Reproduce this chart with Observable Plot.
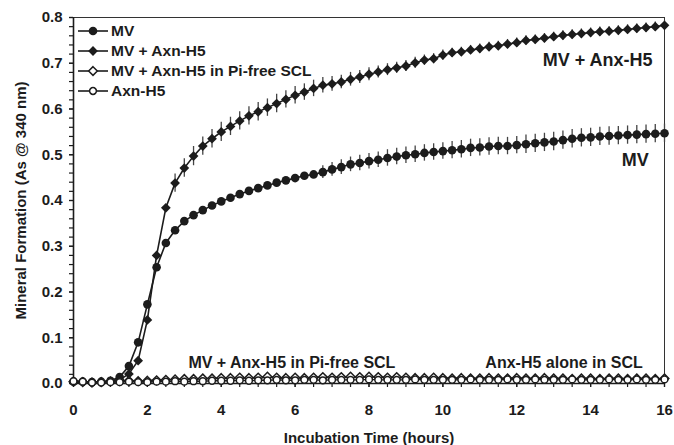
<!DOCTYPE html>
<html>
<head>
<meta charset="utf-8">
<script src="https://cdn.jsdelivr.net/npm/d3@7"></script>
<script src="https://cdn.jsdelivr.net/npm/@observablehq/plot@0.6"></script>
<style>
  html, body { margin: 0; padding: 0; background: #fff; }
  #chart { width: 674px; height: 445px; }
</style>
</head>
<body>
<div id="chart"></div>
<script>
// ---------- data ----------
const hours = [0,0.25,0.5,0.75,1,1.25,1.5,1.75,2,2.25,2.5,2.75,3,3.25,3.5,3.75,4,4.25,4.5,4.75,5,5.25,5.5,5.75,6,6.25,6.5,6.75,7,7.25,7.5,7.75,8,8.25,8.5,8.75,9,9.25,9.5,9.75,10,10.25,10.5,10.75,11,11.25,11.5,11.75,12,12.25,12.5,12.75,13,13.25,13.5,13.75,14,14.25,14.5,14.75,15,15.25,15.5,15.75,16];

const mv = [0.004,0.004,0.003,0.004,0.006,0.014,0.038,0.090,0.173,0.254,
            0.307,0.335,0.355,0.368,0.379,0.389,0.398,0.406,0.414,0.421,
            0.427,0.433,0.439,0.444,0.449,0.454,0.457,0.462,0.468,0.473,
            0.479,0.482,0.486,0.489,0.493,0.496,0.499,0.501,0.504,0.506,
            0.508,0.510,0.512,0.515,0.516,0.518,0.519,0.519,0.521,0.523,
            0.525,0.527,0.529,0.532,0.535,0.537,0.538,0.540,0.541,0.542,
            0.543,0.544,0.545,0.546,0.547];

const mvAnx = [0.004,0.004,0.003,0.004,0.005,0.008,0.021,0.050,0.139,0.280,
               0.384,0.438,0.471,0.497,0.519,0.535,0.550,0.562,0.574,0.585,
               0.594,0.603,0.612,0.621,0.630,0.637,0.645,0.652,0.655,0.659,
               0.665,0.670,0.676,0.681,0.686,0.690,0.694,0.701,0.707,0.710,
               0.718,0.723,0.725,0.729,0.732,0.736,0.738,0.742,0.745,0.750,
               0.752,0.755,0.758,0.761,0.763,0.765,0.767,0.769,0.770,0.772,
               0.774,0.776,0.778,0.780,0.783];

const mvAnxPiFree = [0.004,0.003,0.002,0.003,0.004,0.005,0.006,0.005,0.006,0.007,
                     0.008,0.009,0.010,0.010,0.011,0.011,0.012,0.012,0.013,0.012,
                     0.013,0.015,0.013,0.012,0.013,0.012,0.013,0.014,0.013,0.014,
                     0.015,0.014,0.015,0.014,0.013,0.014,0.013,0.012,0.012,0.013,
                     0.012,0.011,0.012,0.011,0.011,0.012,0.011,0.011,0.012,0.011,
                     0.011,0.012,0.011,0.011,0.010,0.011,0.011,0.010,0.011,0.011,
                     0.010,0.011,0.011,0.010,0.011];

const anxOnly = [0.005,0.004,0.002,0.002,0.003,0.003,0.004,0.003,0.003,0.004,
                 0.004,0.005,0.004,0.005,0.005,0.006,0.006,0.006,0.007,0.006,
                 0.007,0.007,0.008,0.007,0.007,0.008,0.008,0.007,0.008,0.008,
                 0.008,0.008,0.009,0.008,0.008,0.008,0.008,0.009,0.008,0.008,
                 0.008,0.008,0.008,0.009,0.008,0.008,0.008,0.009,0.008,0.008,
                 0.009,0.008,0.008,0.008,0.009,0.008,0.008,0.008,0.009,0.008,
                 0.008,0.009,0.008,0.008,0.009];

const mvErr = [0,0,0,0,0,0,0,0,0,0,
               0,0,0,0,0,0,0,0,0,0,
               0,0,0,0,0,0,0,0.014,0.015,0.016,
               0.016,0.017,0.017,0.017,0.018,0.018,0.018,0.018,0.018,0.018,
               0.018,0.019,0.019,0.019,0.019,0.019,0.019,0.019,0.019,0.020,
               0.020,0.020,0.020,0.020,0.020,0.020,0.020,0.020,0.020,0.020,
               0.020,0.020,0.020,0.020,0.020];

const mvAnxErr = [0,0,0,0,0,0,0,0,0,0,
                  0,0.020,0.020,0.021,0.020,0.020,0.021,0.020,0.020,0.020,
                  0.020,0.019,0.020,0.019,0.019,0.018,0.018,0.017,0.016,0.015,
                  0.015,0.014,0.014,0.013,0.013,0.012,0.012,0.012,0.011,0.011,
                  0.011,0.010,0.010,0.010,0.010,0.010,0.010,0.010,0.010,0.010,
                  0.010,0.010,0.010,0.010,0.010,0.010,0.010,0.010,0.010,0.010,
                  0.010,0.010,0.010,0.010,0.010];

const seriesNames = ["MV", "MV + Axn-H5", "MV + Axn-H5 in Pi-free SCL", "Axn-H5"];
const xTicks = [0, 2, 4, 6, 8, 10, 12, 14, 16];
const yTicks = [0, 0.1, 0.2, 0.3, 0.4, 0.5, 0.6, 0.7, 0.8];
const xLabel = "Incubation Time (hours)";
const yLabel = "Mineral Formation (As @ 340 nm)";
const annotations = ["MV + Anx-H5", "MV", "MV + Anx-H5 in Pi-free SCL", "Anx-H5 alone in SCL"];

// ---------- build table ----------
const toRows = (vals, errs) => hours.map((h, i) => ({h, v: vals[i], e: errs ? errs[i] : 0}));
const dMV = toRows(mv, mvErr);
const dMVAnx = toRows(mvAnx, mvAnxErr);
const dPi = toRows(mvAnxPiFree);
const dAnx = toRows(anxOnly);

const ink = "#1c1c1c";
const xMinor = d3.range(0, 16.001, 0.5);
const yMinor = d3.range(0, 0.8001, 0.02);

const chart = Plot.plot({
  width: 674,
  height: 445,
  marginTop: 17,
  marginRight: 10,
  marginBottom: 62,
  marginLeft: 73,
  style: {
    fontFamily: "'Liberation Sans', Arial, Helvetica, sans-serif",
    fontSize: "15px",
    fontWeight: "bold",
    color: ink,
    background: "#fff"
  },
  x: {domain: [0, 16]},
  y: {domain: [0, 0.8]},
  marks: [
    Plot.frame({stroke: "#333", strokeWidth: 1}),
    Plot.axisX(xMinor, {tickSize: 4, text: null, label: null, strokeWidth: 1.2}),
    Plot.axisX(xTicks, {tickSize: 4, tickPadding: 17, strokeWidth: 1.2,
      label: xLabel, labelAnchor: "center", labelArrow: "none", fontSize: 15}),
    Plot.axisY(yMinor, {tickSize: 4, text: null, label: null, strokeWidth: 1.2}),
    Plot.axisY(yTicks, {tickSize: 4, tickPadding: 7, strokeWidth: 1.2, tickFormat: d3.format(".1f"),
      label: yLabel, labelAnchor: "center", labelArrow: "none", labelOffset: 58, fontSize: 15}),
    Plot.ruleX([0], {stroke: ink, strokeWidth: 1.6}),
    Plot.ruleY([0], {stroke: ink, strokeWidth: 1.6}),

    // error bars
    Plot.ruleX(dMV.filter(d => d.e > 0), {x: "h", y1: d => d.v - d.e, y2: d => d.v + d.e, stroke: "#444", strokeWidth: 1.3}),
    Plot.ruleX(dMVAnx.filter(d => d.e > 0), {x: "h", y1: d => d.v - d.e, y2: d => d.v + d.e, stroke: "#444", strokeWidth: 1.3}),

    // MV
    Plot.line(dMV, {x: "h", y: "v", stroke: ink, strokeWidth: 1.6}),
    Plot.dot(dMV, {x: "h", y: "v", r: 4.3, symbol: "circle", fill: ink, stroke: "none"}),
    // MV + Axn-H5
    Plot.line(dMVAnx, {x: "h", y: "v", stroke: ink, strokeWidth: 1.6}),
    Plot.dot(dMVAnx, {x: "h", y: "v", r: 4.4, symbol: "diamond2", fill: ink, stroke: "none"}),
    // Pi-free
    Plot.line(dPi, {x: "h", y: "v", stroke: ink, strokeWidth: 1.4}),
    Plot.dot(dPi, {x: "h", y: "v", r: 3.9, symbol: "diamond2", fill: "#fff", stroke: ink, strokeWidth: 1.5}),
    // Axn-H5 alone
    Plot.line(dAnx, {x: "h", y: "v", stroke: ink, strokeWidth: 1.4}),
    Plot.dot(dAnx, {x: "h", y: "v", r: 3.4, symbol: "circle", fill: "#fff", stroke: ink, strokeWidth: 1.5}),

    // in-plot annotations
    Plot.text([annotations[0]], {x: () => 14.19, y: () => 0.707, text: d => d, fontSize: 18, fontWeight: "bold", fill: ink}),
    Plot.text([annotations[1]], {x: () => 15.21, y: () => 0.488, text: d => d, fontSize: 18, fontWeight: "bold", fill: ink}),
    Plot.text([annotations[2]], {x: () => 3.11, y: () => 0.044, text: d => d, textAnchor: "start", fontSize: 16, fontWeight: "bold", fill: ink}),
    Plot.text([annotations[3]], {x: () => 11.15, y: () => 0.044, text: d => d, textAnchor: "start", fontSize: 16, fontWeight: "bold", fill: ink})
  ]
});

document.getElementById("chart").appendChild(chart);

// ---------- inset legend ----------
const svg = d3.select(chart);
const lg = svg.append("g").attr("class", "legend").attr("text-anchor", "start");
const diamond2 = d3.symbolDiamond2 || {
  draw(ctx, size) { const r = Math.sqrt(size) * 0.62625; ctx.moveTo(0, -r); ctx.lineTo(r, 0); ctx.lineTo(0, r); ctx.lineTo(-r, 0); ctx.closePath(); }
};
const legendSymbols = [
  {type: d3.symbolCircle, r: 4.3, fill: ink, stroke: "none"},
  {type: diamond2, r: 4.4, fill: ink, stroke: "none"},
  {type: diamond2, r: 3.9, fill: "#fff", stroke: ink},
  {type: d3.symbolCircle, r: 3.4, fill: "#fff", stroke: ink}
];
seriesNames.forEach((name, i) => {
  const y = 31 + i * 20;
  const s = legendSymbols[i];
  lg.append("line").attr("x1", 78).attr("x2", 108).attr("y1", y).attr("y2", y)
    .attr("stroke", ink).attr("stroke-width", 1.6);
  lg.append("path").attr("transform", `translate(93,${y})`)
    .attr("d", d3.symbol().type(s.type).size(Math.PI * s.r * s.r)())
    .attr("fill", s.fill).attr("stroke", s.stroke).attr("stroke-width", 1.5);
  lg.append("text").attr("x", 111).attr("y", y).attr("dy", "0.35em")
    .attr("text-anchor", "start")
    .attr("fill", ink).style("font-size", "15.5px").style("font-weight", "bold")
    .text(name);
});
</script>
</body>
</html>
